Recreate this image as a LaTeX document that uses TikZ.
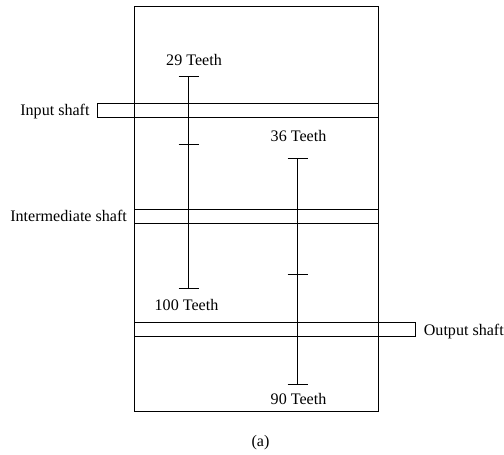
\documentclass[tikz,border=0pt]{standalone}
\usepackage{fontspec}
\setmainfont{Liberation Serif}
\tikzset{
  framebox/.style={draw=black, line width=0.55pt},
  gearline/.style={draw=black, line width=0.55pt},
  partlabel/.style={font=\fontsize{9.15pt}{11pt}\selectfont, text=black, inner sep=0pt}
}
\begin{document}
\begin{tikzpicture}
        \useasboundingbox (0, 0) rectangle (10.08, 9.08);
        \fill[white] (0, 0) rectangle (10.08, 9.08);

        % ---- HOUSING ----
        \draw[framebox] (2.68, 0.85) rectangle (7.57, 8.95);

        % ---- SHAFTS ----
        \draw[framebox] (1.95, 6.73) rectangle (7.57, 7.01);
        \draw[framebox] (2.68, 4.62) -- (7.57, 4.62);
        \draw[framebox] (2.68, 4.90) -- (7.57, 4.90);
        \draw[framebox] (2.68, 2.35) rectangle (8.30, 2.64);

        % ---- GEARS ----
        \draw[gearline] (3.77, 7.56) -- (3.77, 3.31);
        \draw[gearline] (3.57, 7.56) -- (3.97, 7.56);
        \draw[gearline] (3.57, 6.19) -- (3.97, 6.19);
        \draw[gearline] (3.57, 3.31) -- (3.97, 3.31);
        \draw[gearline] (5.95, 5.92) -- (5.95, 1.39);
        \draw[gearline] (5.75, 5.92) -- (6.15, 5.92);
        \draw[gearline] (5.75, 3.59) -- (6.15, 3.59);
        \draw[gearline] (5.75, 1.39) -- (6.15, 1.39);

        % ---- LABELS ----
        \node[partlabel] (teethA) at (3.88, 7.88) {29 Teeth};
        \node[partlabel] (teethB) at (5.97, 6.36) {36 Teeth};
        \node[partlabel] (teethC) at (3.73, 2.98) {100 Teeth};
        \node[partlabel] (teethD) at (5.97, 1.11) {90 Teeth};
        \node[partlabel, anchor=west] (inputlabel) at (0.40, 6.85) {Input shaft};
        \node[partlabel, anchor=west] (midlabel) at (0.20, 4.76) {Intermediate shaft};
        \node[partlabel, anchor=west] (outputlabel) at (8.47, 2.45) {Output shaft};
        \node[partlabel] (caption) at (5.21, 0.23) {(a)};
\end{tikzpicture}
\end{document}
